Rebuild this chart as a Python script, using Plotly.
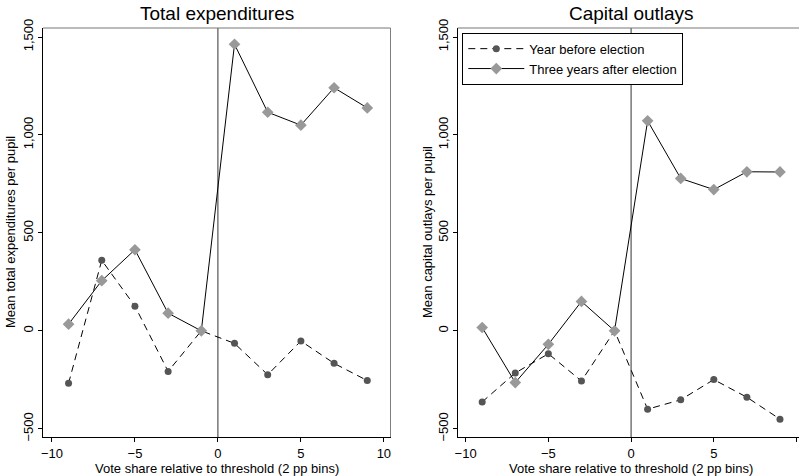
import plotly.graph_objects as go

# Vote-share bins (2 pp), bin midpoints
bins = [-9, -7, -5, -3, -1, 1, 3, 5, 7, 9]

# Mean total expenditures per pupil
total_before = [-268, 360, 126, -207, 0, -64, -224, -52, -166, -254]
total_after = [34, 256, 414, 90, 0, 1463, 1116, 1050, 1241, 1138]

# Mean capital outlays per pupil
capital_before = [-363, -215, -117, -256, 0, -400, -352, -249, -339, -451]
capital_after = [17, -264, -69, 150, 0, 1072, 778, 721, 812, 811]

y_ticks = [-500, 0, 500, 1000, 1500]
y_tick_text = ["\u2212500", "0", "500", "1,000", "1,500"]
x_ticks = [-10, -5, 0, 5, 10]
x_tick_text = ["\u221210", "\u22125", "0", "5", "10"]

FONT = "Liberation Sans, Arial, Helvetica, sans-serif"
W, H = 799, 476
ML, MR, MT, MB = 43, 0, 28, 39
PW = W - ML - MR
PH = H - MT - MB

fig = go.Figure()

def add_panel(xa, ya, before, after, show_legend):
    fig.add_trace(go.Scatter(
        x=bins, y=before, mode="lines+markers", name="Year before election",
        line=dict(color="black", width=1, dash="7px,5px"),
        marker=dict(symbol="circle", size=7, color="#555555"),
        xaxis=xa, yaxis=ya, showlegend=show_legend))
    fig.add_trace(go.Scatter(
        x=bins, y=after, mode="lines+markers", name="Three years after election",
        line=dict(color="black", width=1),
        marker=dict(symbol="diamond", size=9, color="#999999"),
        xaxis=xa, yaxis=ya, showlegend=show_legend))

add_panel("x", "y", total_before, total_after, False)
add_panel("x2", "y2", capital_before, capital_after, True)

axis_common = dict(
    showgrid=False, zeroline=False, ticks="outside", ticklen=4,
    tickcolor="black", tickwidth=1, showline=True, linecolor="black",
    linewidth=1, tickfont=dict(family=FONT, size=13, color="black"),
)

y_range = [-542, 1546]
left_dom = [0, 347.5 / PW]
right_dom = [(457.7 - ML) / PW, 1]

fig.update_layout(
    width=W, height=H,
    margin=dict(l=ML, r=MR, t=MT, b=MB),
    paper_bgcolor="white", plot_bgcolor="white",
    font=dict(family=FONT, color="black"),
    xaxis=dict(domain=left_dom, range=[-10.54, 10.40], tickvals=x_ticks,
               ticktext=x_tick_text, ticklabelstandoff=0, **axis_common),
    yaxis=dict(domain=[0, 1], range=y_range, tickvals=y_ticks,
               ticktext=y_tick_text, tickangle=-90, **axis_common),
    xaxis2=dict(domain=right_dom, range=[-10.48, 10.15], tickvals=x_ticks,
                ticktext=x_tick_text, anchor="y2", ticklabelstandoff=0,
                **axis_common),
    yaxis2=dict(domain=[0, 1], range=y_range, tickvals=y_ticks,
                ticktext=y_tick_text, tickangle=-90, anchor="x2",
                **axis_common),
    legend=dict(x=(462.3 - ML) / PW, y=0.9885, xanchor="left", yanchor="top",
                bgcolor="white", bordercolor="black", borderwidth=1,
                font=dict(family=FONT, size=13, color="black"),
                itemwidth=56, tracegroupgap=2),
)

# Frame: top border of both panels, right border of the left panel
fig.add_shape(type="line", xref="x", yref="paper", x0=10.40, x1=10.40,
              y0=0, y1=1, line=dict(color="black", width=1))
fig.add_shape(type="line", xref="paper", yref="paper", x0=left_dom[0],
              x1=left_dom[1], y0=1, y1=1, line=dict(color="#777777", width=1))
fig.add_shape(type="line", xref="paper", yref="paper", x0=right_dom[0],
              x1=right_dom[1], y0=1, y1=1, line=dict(color="#777777", width=1))

# Threshold lines at zero vote share
for xr in ("x", "x2"):
    fig.add_shape(type="line", xref=xr, yref="paper", x0=0, x1=0, y0=0, y1=1,
                  line=dict(color="#333333", width=1), layer="below")

def px_to_paper_x(px):
    return (px - ML) / PW

def px_to_paper_y(py):
    return (H - MB - py) / PH

annotations = [
    dict(text="Total expenditures", x=px_to_paper_x(217), y=px_to_paper_y(13),
         font=dict(size=19)),
    dict(text="Capital outlays", x=px_to_paper_x(631), y=px_to_paper_y(13),
         font=dict(size=19)),
    dict(text="Vote share relative to threshold (2 pp bins)",
         x=px_to_paper_x(217), y=px_to_paper_y(468), font=dict(size=13)),
    dict(text="Vote share relative to threshold (2 pp bins)",
         x=px_to_paper_x(631), y=px_to_paper_y(468), font=dict(size=13)),
    dict(text="Mean total expenditures per pupil", x=px_to_paper_x(10),
         y=px_to_paper_y(232), textangle=-90, font=dict(size=13)),
    dict(text="Mean capital outlays per pupil", x=px_to_paper_x(427),
         y=px_to_paper_y(232), textangle=-90, font=dict(size=13)),
]
for a in annotations:
    a.update(xref="paper", yref="paper", showarrow=False,
             xanchor="center", yanchor="middle")
    a["font"].update(family=FONT, color="black")
fig.update_layout(annotations=annotations)

fig.write_html("out.html")
